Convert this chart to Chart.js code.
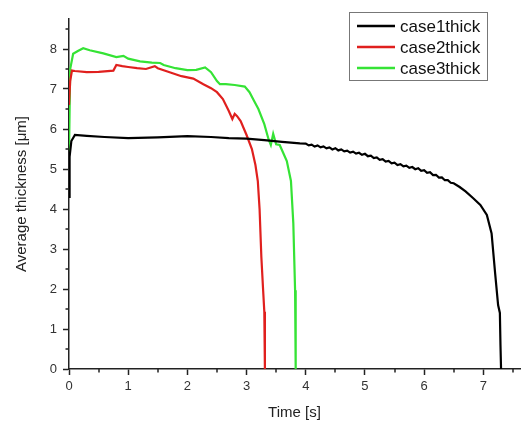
<!DOCTYPE html>
<html>
<head>
<meta charset="utf-8">
<script src="https://cdn.jsdelivr.net/npm/chart.js@4/dist/chart.umd.min.js"></script>
<style>
  html, body { margin: 0; padding: 0; background: #fff; }
  #wrap { width: 521px; height: 423px; }
</style>
</head>
<body>
<div id="wrap"><canvas id="chart" width="521" height="423"></canvas></div>
<script>
// case1thick (black)
const case1Time = [0, 0.01, 0.04, 0.1, 0.3, 0.6, 1.0, 1.5, 2.0, 2.4, 2.7, 3.0, 3.3, 3.6, 3.9,
  4.00, 4.05, 4.10, 4.15, 4.20, 4.25, 4.30, 4.35, 4.40, 4.45, 4.50, 4.55, 4.60, 4.65, 4.70,
  4.75, 4.80, 4.85, 4.90, 4.95, 5.00, 5.05, 5.10, 5.15, 5.20, 5.25, 5.30, 5.35, 5.40, 5.45,
  5.50, 5.55, 5.60, 5.65, 5.70, 5.75, 5.80, 5.85, 5.90, 5.95, 6.00, 6.05, 6.10, 6.15, 6.20,
  6.25, 6.30, 6.35, 6.40, 6.45, 6.50, 6.6, 6.7, 6.83, 6.95, 7.06, 7.14, 7.2, 7.25, 7.28, 7.29, 7.3];
const case1Thick = [4.3, 5.3, 5.7, 5.85, 5.83, 5.8, 5.77, 5.79, 5.82, 5.8, 5.77, 5.76, 5.72, 5.68, 5.64,
  5.635, 5.59, 5.61, 5.56, 5.59, 5.54, 5.565, 5.515, 5.54, 5.49, 5.52, 5.465, 5.49, 5.44, 5.46,
  5.41, 5.435, 5.385, 5.405, 5.355, 5.38, 5.32, 5.335, 5.275, 5.29, 5.23, 5.245, 5.185, 5.20, 5.14,
  5.16, 5.10, 5.12, 5.065, 5.085, 5.03, 5.05, 4.995, 5.02, 4.955, 4.97, 4.905, 4.92, 4.85, 4.855,
  4.785, 4.79, 4.72, 4.72, 4.655, 4.645, 4.55, 4.44, 4.27, 4.1, 3.85, 3.39, 2.39, 1.6, 1.4, 0.6, 0];

// case2thick (red)
const case2Time = [0, 0.02, 0.05, 0.1, 0.3, 0.5, 0.75, 0.8, 0.9, 1.0, 1.15, 1.3, 1.45, 1.5, 1.7, 1.9,
  2.1, 2.27, 2.4, 2.5, 2.6, 2.7, 2.76, 2.8, 2.84, 2.9, 3.0, 3.09, 3.15, 3.19, 3.22, 3.25, 3.28, 3.3, 3.31];
const case2Thick = [6.6, 7.2, 7.46, 7.45, 7.42, 7.43, 7.46, 7.6, 7.57, 7.55, 7.52, 7.5, 7.57, 7.52, 7.42, 7.32,
  7.26, 7.12, 7.02, 6.92, 6.75, 6.45, 6.25, 6.38, 6.32, 6.2, 5.85, 5.5, 5.1, 4.7, 4.0, 2.8, 1.97, 1.43, 0];

// case3thick (green)
const case3Time = [0, 0.02, 0.07, 0.15, 0.24, 0.35, 0.58, 0.8, 0.92, 1.0, 1.2, 1.4, 1.54, 1.6, 1.8, 2.0,
  2.15, 2.3, 2.4, 2.5, 2.55, 2.65, 2.8, 2.97, 3.05, 3.11, 3.2, 3.3, 3.37, 3.41, 3.45, 3.5, 3.56, 3.62,
  3.68, 3.75, 3.79, 3.82, 3.83];
const case3Thick = [5.4, 7.5, 7.88, 7.95, 8.02, 7.97, 7.89, 7.8, 7.83, 7.76, 7.69, 7.66, 7.65, 7.6, 7.52, 7.47,
  7.48, 7.54, 7.42, 7.2, 7.12, 7.12, 7.1, 7.06, 6.92, 6.75, 6.5, 6.12, 5.75, 5.6, 5.88, 5.62, 5.6, 5.4,
  5.2, 4.7, 3.64, 1.97, 0];

const seriesNames = ["case1thick", "case2thick", "case3thick"];
const seriesColors = ["#000000", "#e0201e", "#35e335"];

const font = "'Liberation Sans', Arial, sans-serif";
const toPoints = (xs, ys) => xs.map((x, i) => ({ x: x, y: ys[i] }));

// minor ticks at the half steps
const minorTicks = {
    id: "minorTicks",
    afterDraw(chart) {
        const ctx = chart.ctx;
        const xs = chart.scales.x, ys = chart.scales.y;
        const area = chart.chartArea;
        ctx.save();
        ctx.strokeStyle = "#222";
        ctx.lineWidth = 1.5;
        ctx.beginPath();
        for (let v = 0.5; v < xs.max; v += 1) {
            const px = Math.round(xs.getPixelForValue(v));
            ctx.moveTo(px, area.bottom);
            ctx.lineTo(px, area.bottom + 3.5);
        }
        for (let v = 0.5; v < ys.max; v += 1) {
            const py = Math.round(ys.getPixelForValue(v));
            ctx.moveTo(area.left, py);
            ctx.lineTo(area.left - 3.5, py);
        }
        ctx.stroke();
        ctx.restore();
    }
};

// boxed legend inside the plot, top right
const boxLegend = {
    id: "boxLegend",
    afterDraw(chart) {
        const ctx = chart.ctx;
        const area = chart.chartArea;
        const left = area.right - 171, top = area.top - 7;
        ctx.save();
        ctx.fillStyle = "#fff";
        ctx.fillRect(left, top, 138, 68);
        ctx.strokeStyle = "#777";
        ctx.lineWidth = 1;
        ctx.strokeRect(left + 0.5, top + 0.5, 138, 68);
        ctx.font = "17px " + font;
        ctx.textBaseline = "middle";
        chart.data.datasets.forEach((ds, i) => {
            const y = top + 14 + i * 21;
            ctx.strokeStyle = ds.borderColor;
            ctx.lineWidth = 2.5;
            ctx.beginPath();
            ctx.moveTo(left + 8, y);
            ctx.lineTo(left + 46, y);
            ctx.stroke();
            ctx.fillStyle = "#111";
            ctx.fillText(ds.label, left + 51, y + 1);
        });
        ctx.restore();
    }
};

new Chart(document.getElementById("chart"), {
    type: "line",
    data: {
        datasets: [
            { label: seriesNames[0], data: toPoints(case1Time, case1Thick) },
            { label: seriesNames[1], data: toPoints(case2Time, case2Thick) },
            { label: seriesNames[2], data: toPoints(case3Time, case3Thick) }
        ].map((ds, i) => Object.assign(ds, {
            borderColor: seriesColors[i],
            borderWidth: 2.2,
            pointRadius: 0,
            tension: 0,
            fill: false
        }))
    },
    options: {
        responsive: false,
        animation: false,
        layout: { padding: { top: 19, right: 1, bottom: 1, left: 9 } },
        plugins: { legend: { display: false }, tooltip: { enabled: false } },
        scales: {
            x: {
                type: "linear",
                min: 0,
                max: 7.62,
                afterFit(scale) { scale.height = 53; },
                border: { color: "#222", width: 1.5 },
                grid: { drawOnChartArea: false, tickLength: 6, tickColor: "#222", tickWidth: 1.5 },
                ticks: { stepSize: 1, includeBounds: false, color: "#333", padding: 4, maxRotation: 0,
                         font: { family: font, size: 13 } },
                title: { display: true, text: "Time [s]", color: "#222", padding: { top: 0, bottom: 0 },
                         font: { family: font, size: 15 } }
            },
            y: {
                min: 0,
                max: 8.75,
                afterFit(scale) { scale.width = 60; },
                border: { color: "#222", width: 1.5 },
                grid: { drawOnChartArea: false, tickLength: 6, tickColor: "#222", tickWidth: 1.5 },
                ticks: { stepSize: 1, includeBounds: false, color: "#333", padding: 6,
                         font: { family: font, size: 13 } },
                title: { display: true, text: "Average thickness [\u03bcm]", color: "#222",
                         padding: { top: 4, bottom: 4 }, font: { family: font, size: 15 } }
            }
        }
    },
    plugins: [minorTicks, boxLegend]
});
</script>
</body>
</html>
